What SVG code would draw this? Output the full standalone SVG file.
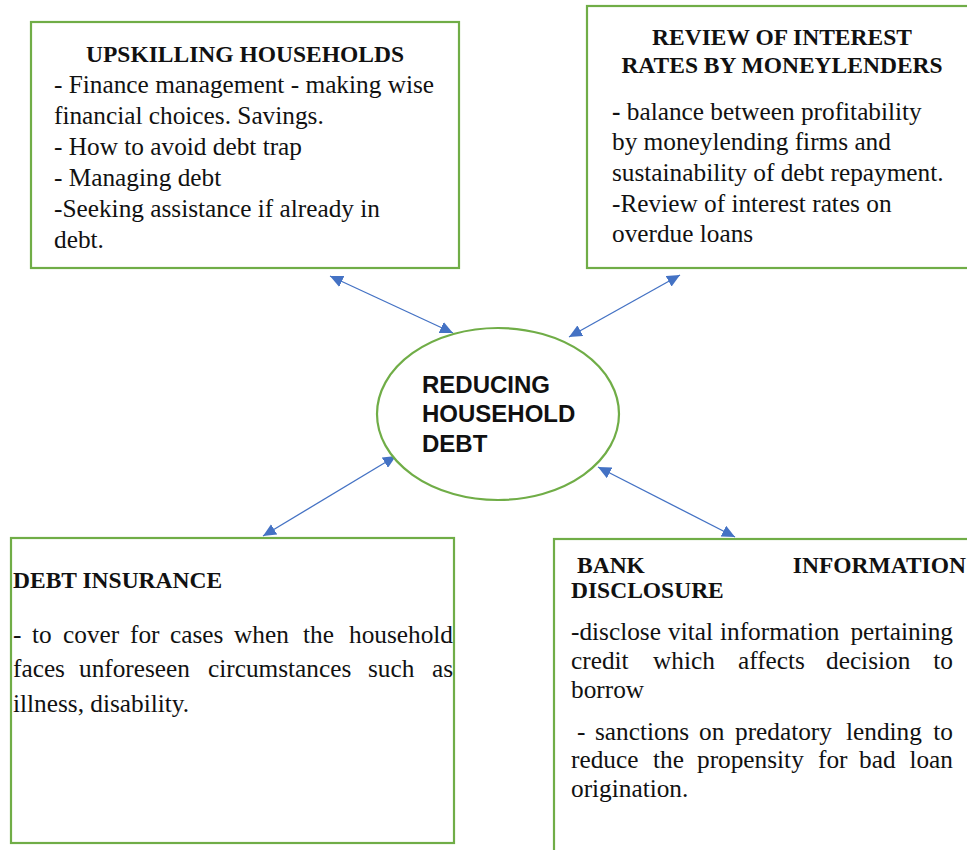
<svg xmlns="http://www.w3.org/2000/svg" width="967" height="850" viewBox="0 0 967 850">
<style>
.box{fill:#fff;stroke:#70AD47;stroke-width:2.2}
.t{font-family:"Liberation Serif","Times New Roman",serif;font-size:25.3px;fill:#111}
.h{font-family:"Liberation Serif","Times New Roman",serif;font-size:23.5px;font-weight:bold;fill:#111}
.c{font-family:"Liberation Sans",Arial,sans-serif;font-size:24px;font-weight:bold;fill:#111}
.conn{stroke:#4472C4;stroke-width:1.3;fill:none;marker-start:url(#ah);marker-end:url(#ah)}
</style>
<defs>
<marker id="ah" markerUnits="userSpaceOnUse" markerWidth="14" markerHeight="12" viewBox="0 0 14 12" refX="13" refY="6" orient="auto-start-reverse">
<path d="M0,0 L13,6 L0,12 Z" fill="#4472C4"/>
</marker>
</defs>
<rect width="967" height="850" fill="#fff"/>

<g id="connectors">
<line class="conn" x1="330" y1="276" x2="453" y2="333"/>
<line class="conn" x1="680" y1="275" x2="569" y2="337"/>
<line class="conn" x1="396" y1="456" x2="263" y2="536"/>
<line class="conn" x1="598" y1="467" x2="735" y2="537"/>
</g>

<g id="upskilling">
<rect class="box" x="31" y="22" width="428" height="246"/>
<text class="h" x="245" y="62" text-anchor="middle" font-size="24">UPSKILLING HOUSEHOLDS</text>
<text class="t" x="54" y="93">- Finance management - making wise</text>
<text class="t" x="54" y="124">financial choices. Savings.</text>
<text class="t" x="54" y="155">- How to avoid debt trap</text>
<text class="t" x="54" y="186">- Managing debt</text>
<text class="t" x="54" y="217">-Seeking assistance if already in</text>
<text class="t" x="54" y="248">debt.</text>
</g>

<g id="review">
<rect class="box" x="587" y="6" width="400" height="262"/>
<text class="h" x="782" y="45" text-anchor="middle">REVIEW OF INTEREST</text>
<text class="h" x="782" y="73" text-anchor="middle">RATES BY MONEYLENDERS</text>
<text class="t" x="612" y="120"><tspan font-weight="bold">-</tspan> balance between profitability</text>
<text class="t" x="612" y="150">by moneylending firms and</text>
<text class="t" x="612" y="181">sustainability of debt repayment.</text>
<text class="t" x="612" y="212">-Review of interest rates on</text>
<text class="t" x="612" y="242">overdue loans</text>
</g>

<g id="center">
<ellipse cx="498" cy="414" rx="121" ry="86" fill="#fff" stroke="#70AD47" stroke-width="2.2"/>
<text class="c" x="422" y="393">REDUCING</text>
<text class="c" x="422" y="422">HOUSEHOLD</text>
<text class="c" x="422" y="452">DEBT</text>
</g>

<g id="insurance">
<rect class="box" x="11" y="538" width="443" height="305"/>
<text class="h" x="13" y="588">DEBT INSURANCE</text>
<text class="t" y="643"><tspan x="13">-</tspan><tspan x="32">to</tspan><tspan x="63">cover</tspan><tspan x="130">for</tspan><tspan x="170">cases</tspan><tspan x="234">when</tspan><tspan x="303">the</tspan><tspan x="453" text-anchor="end">household</tspan></text>
<text class="t" y="677"><tspan x="13">faces</tspan><tspan x="79">unforeseen</tspan><tspan x="208">circumstances</tspan><tspan x="368">such</tspan><tspan x="453" text-anchor="end">as</tspan></text>
<text class="t" x="13" y="712">illness, disability.</text>
</g>

<g id="bank">
<rect class="box" x="554" y="539" width="430" height="330"/>
<text class="h" x="577" y="573">BANK</text>
<text class="h" x="966" y="573" text-anchor="end">INFORMATION</text>
<text class="h" x="571" y="598">DISCLOSURE</text>
<text class="t" y="640"><tspan x="571">-disclose</tspan><tspan x="668">vital</tspan><tspan x="720">information</tspan><tspan x="953" text-anchor="end">pertaining</tspan></text>
<text class="t" y="669"><tspan x="571">credit</tspan><tspan x="653">which</tspan><tspan x="738">affects</tspan><tspan x="826">decision</tspan><tspan x="953" text-anchor="end">to</tspan></text>
<text class="t" x="571" y="698">borrow</text>
<text class="t" y="740"><tspan x="577">-</tspan><tspan x="595">sanctions</tspan><tspan x="699">on</tspan><tspan x="735">predatory</tspan><tspan x="846">lending</tspan><tspan x="953" text-anchor="end">to</tspan></text>
<text class="t" y="768"><tspan x="571">reduce</tspan><tspan x="653">the</tspan><tspan x="697">propensity</tspan><tspan x="818">for</tspan><tspan x="859">bad</tspan><tspan x="953" text-anchor="end">loan</tspan></text>
<text class="t" x="571" y="797">origination.</text>
</g>
</svg>
